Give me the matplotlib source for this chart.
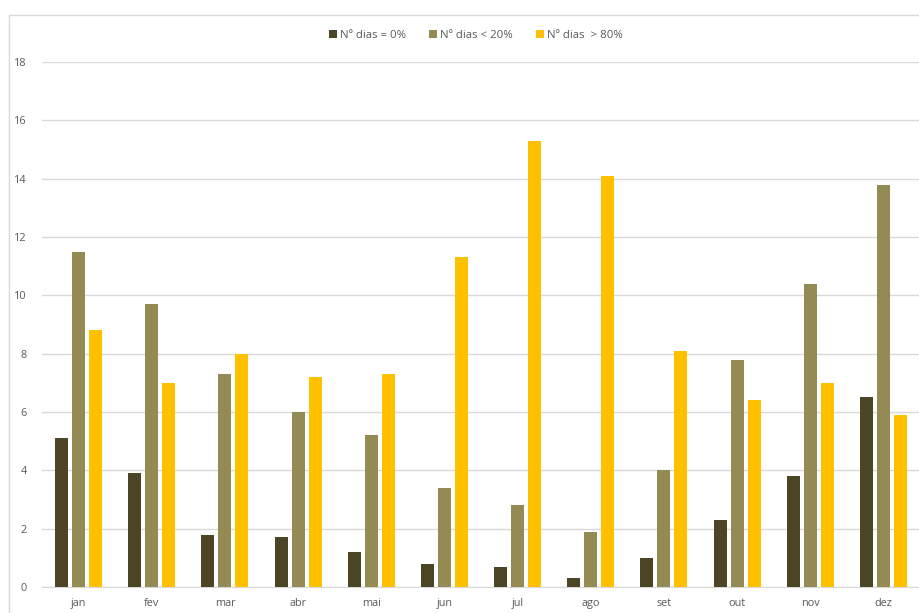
import matplotlib
matplotlib.use("Agg")
import matplotlib.pyplot as plt
from matplotlib.patches import Rectangle
import numpy as np

months = ["jan", "fev", "mar", "abr", "mai", "jun", "jul", "ago", "set", "out", "nov", "dez"]
dias_zero = [5.1, 3.9, 1.8, 1.7, 1.2, 0.8, 0.7, 0.3, 1.0, 2.3, 3.8, 6.5]
dias_lt20 = [11.5, 9.7, 7.3, 6.0, 5.2, 3.4, 2.8, 1.9, 4.0, 7.8, 10.4, 13.8]
dias_gt80 = [8.8, 7.0, 8.0, 7.2, 7.3, 11.3, 15.3, 14.1, 8.1, 6.4, 7.0, 5.9]
series_labels = ["Nº dias = 0%", "Nº dias < 20%", "Nº dias  > 80%"]
colors = ["#4b4525", "#948a54", "#ffc000"]

plt.rcParams["font.family"] = ["Open Sans", "DejaVu Sans"]

fig = plt.figure(figsize=(9.2, 6.13), dpi=100)
fig.patch.set_facecolor("white")

# chart area border
fig.patches.append(Rectangle((9 / 920, -0.1), 2.0, (613 - 15) / 613 + 0.1,
                             transform=fig.transFigure, fill=False,
                             edgecolor="#d9d9d9", linewidth=1.0))

ax = fig.add_axes([42 / 920, 26 / 613, (920 - 42) / 920, 525 / 613])
x = np.arange(len(months))
offset = 0.232
width = 0.178
for i, (vals, lab, col) in enumerate(zip([dias_zero, dias_lt20, dias_gt80], series_labels, colors)):
    ax.bar(x + (i - 1) * offset, vals, width=width, color=col, label=lab, zorder=3)

ax.set_xlim(-0.5, len(months) - 0.5)
ax.set_ylim(0, 18)
ax.set_yticks(range(0, 19, 2))
ax.set_xticks(x)
ax.set_xticklabels(months)
ax.grid(axis="y", color="#d9d9d9", linewidth=1.0, zorder=0)
for s in ["top", "right", "left"]:
    ax.spines[s].set_visible(False)
ax.spines["bottom"].set_color("#d9d9d9")
ax.tick_params(axis="both", length=0, labelsize=7.8, colors="#595959")
ax.tick_params(axis="y", pad=11)
ax.tick_params(axis="x", pad=8)

leg = fig.legend(loc="center", bbox_to_anchor=(476 / 920, 1 - 35 / 613), ncol=3,
                 frameon=False, fontsize=8.2, handlelength=0.7, handleheight=0.7,
                 handletextpad=0.3, columnspacing=2.0)
for t in leg.get_texts():
    t.set_color("#595959")

fig.savefig("out.png", dpi=100)
